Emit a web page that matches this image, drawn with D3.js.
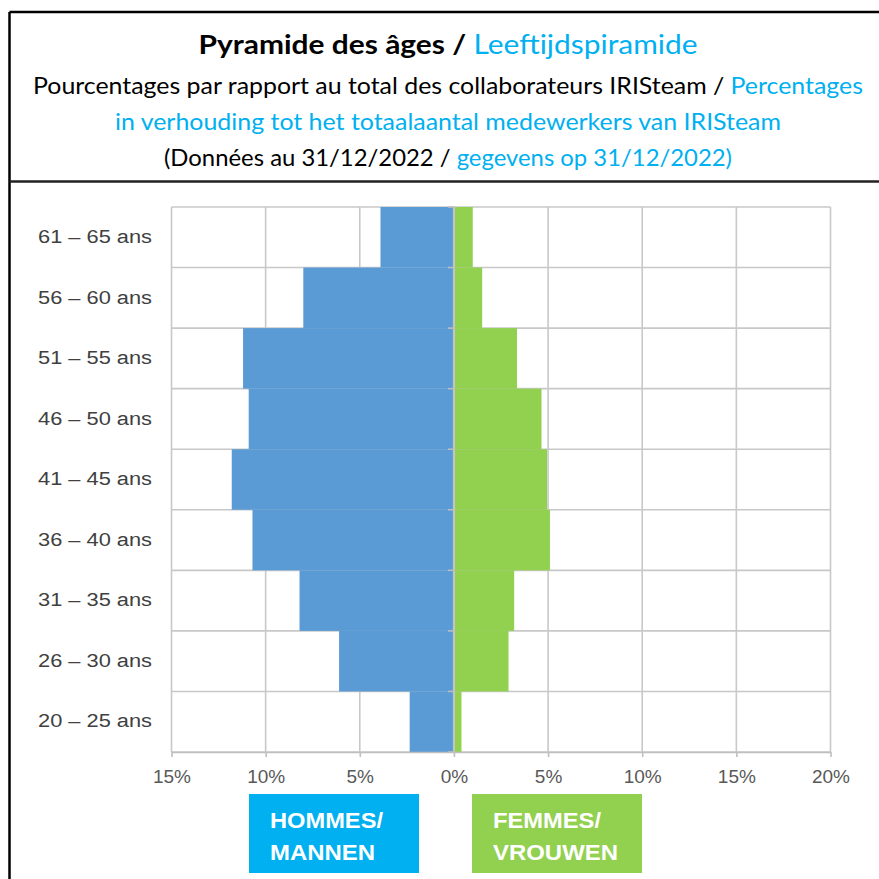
<!DOCTYPE html>
<html>
<head>
<meta charset="utf-8">
<script src="https://cdn.jsdelivr.net/npm/d3@7"></script>
<style>
  body { margin: 0; background: #fff; }
  svg { display: block; }
</style>
</head>
<body>
<svg id="svg" width="879" height="879"></svg>
<script>
// age pyramid data (percent of total staff)
const ageGroups = ['61 – 65 ans', '56 – 60 ans', '51 – 55 ans', '46 – 50 ans', '41 – 45 ans',
                   '36 – 40 ans', '31 – 35 ans', '26 – 30 ans', '20 – 25 ans'];
const hommes = [3.9, 8.0, 11.2, 10.9, 11.8, 10.7, 8.2, 6.1, 2.35];
const femmes = [1.0, 1.5, 3.35, 4.65, 4.95, 5.1, 3.2, 2.9, 0.4];
const xTicks = [-15, -10, -5, 0, 5, 10, 15, 20];

const svg = d3.select('#svg');
const blueText = '#00b0f0';
const gridColor = '#c8c8c8';

// frame of the card
svg.append('rect').attr('width', 879).attr('height', 879).attr('fill', '#fff');
svg.append('line').attr('x1', 9.5).attr('x2', 879).attr('y1', 12).attr('y2', 12)
    .attr('stroke', '#000').attr('stroke-width', 2.5);
svg.append('line').attr('x1', 9.5).attr('x2', 9.5).attr('y1', 12).attr('y2', 879)
    .attr('stroke', '#000').attr('stroke-width', 2.5);
svg.append('line').attr('x1', 9.5).attr('x2', 879).attr('y1', 181.5).attr('y2', 181.5)
    .attr('stroke', '#222').attr('stroke-width', 2.5);

// title block (Calibri in the original, so squeeze to the measured widths)
function titleLine(y, size, width, parts) {
    let t = svg.append('text')
        .attr('x', 448).attr('y', y)
        .attr('text-anchor', 'middle')
        .attr('font-family', 'Lato, "Open Sans", sans-serif')
        .attr('font-size', size)
        .attr('textLength', width)
        .attr('lengthAdjust', 'spacingAndGlyphs');
    parts.forEach(p => {
        t.append('tspan').text(p[0]).attr('fill', p[1]).attr('font-weight', p[2] || 'normal');
    });
}
titleLine(54, 27, 499, [['Pyramide des âges / ', '#000', 'bold'], ['Leeftijdspiramide', blueText]]);
titleLine(94, 23, 830, [['Pourcentages par rapport au total des collaborateurs IRISteam / ', '#000'],
                        ['Percentages', blueText]]);
titleLine(130, 23, 666, [['in verhouding tot het totaalaantal medewerkers van IRISteam', blueText]]);
titleLine(166, 23, 568, [['(Données au 31/12/2022 / ', '#000'], ['gegevens op 31/12/2022)', blueText]]);

// scales
const x = d3.scaleLinear().domain([-15, 20]).range([171.5, 830.5]);
const y = d3.scaleBand().domain(ageGroups).range([207, 752]).padding(0);

const plot = svg.append('g');

// gridlines
plot.selectAll('.vgrid').data(xTicks).enter().append('line')
    .attr('x1', d => x(d)).attr('x2', d => x(d))
    .attr('y1', y.range()[0]).attr('y2', y.range()[1])
    .attr('stroke', gridColor).attr('stroke-width', 1.6);
let bounds = ageGroups.map(d => y(d)).concat([y.range()[1]]);
plot.selectAll('.hgrid').data(bounds).enter().append('line')
    .attr('x1', x(-15)).attr('x2', x(20))
    .attr('y1', d => d).attr('y2', d => d)
    .attr('stroke', gridColor).attr('stroke-width', 1.6);

// bars
plot.selectAll('.men').data(hommes).enter().append('rect')
    .attr('x', d => x(-d))
    .attr('y', (d, i) => y(ageGroups[i]))
    .attr('width', d => x(0) - 1 - x(-d))
    .attr('height', y.bandwidth())
    .attr('fill', '#5b9bd5');
plot.selectAll('.women').data(femmes).enter().append('rect')
    .attr('x', x(0) + 1)
    .attr('y', (d, i) => y(ageGroups[i]))
    .attr('width', d => x(d) - x(0) - 1)
    .attr('height', y.bandwidth())
    .attr('fill', '#92d050');

// zero line with small ticks at band edges
plot.append('line').attr('x1', x(0)).attr('x2', x(0))
    .attr('y1', y.range()[0]).attr('y2', y.range()[1])
    .attr('stroke', '#bfbfbf').attr('stroke-width', 1.5);
plot.selectAll('.ytick').data(bounds).enter().append('line')
    .attr('x1', x(0) - 6).attr('x2', x(0))
    .attr('y1', d => d).attr('y2', d => d)
    .attr('stroke', '#bfbfbf').attr('stroke-width', 1.5);

// x axis
let xAxis = svg.append('g')
    .attr('transform', 'translate(0,' + y.range()[1] + ')')
    .call(d3.axisBottom(x).tickValues(xTicks).tickFormat(d => Math.abs(d) + '%')
        .tickSize(5).tickSizeOuter(0).tickPadding(13));
xAxis.select('.domain').attr('stroke', '#bfbfbf').attr('stroke-width', 1.6);
xAxis.selectAll('line').attr('stroke', '#bfbfbf').attr('stroke-width', 1.6);
xAxis.selectAll('text')
    .attr('font-family', 'Arial, "Liberation Sans", sans-serif')
    .attr('font-size', 19).attr('fill', '#595959');

// y axis labels
let yAxis = svg.append('g')
    .attr('transform', 'translate(160,0)')
    .call(d3.axisLeft(y).tickSize(0).tickPadding(8));
yAxis.select('.domain').remove();
yAxis.selectAll('text')
    .attr('font-family', 'Arial, "Liberation Sans", sans-serif')
    .attr('font-size', 18).attr('fill', '#404040')
    .attr('textLength', 114).attr('lengthAdjust', 'spacingAndGlyphs');

// legend boxes
const legend = [
    {x: 249, w: 170, fill: '#00b0f0', lines: ['HOMMES/', 'MANNEN'], lens: [113, 105]},
    {x: 472, w: 170, fill: '#92d050', lines: ['FEMMES/', 'VROUWEN'], lens: [108, 125]}
];
legend.forEach(l => {
    svg.append('rect').attr('x', l.x).attr('y', 794).attr('width', l.w).attr('height', 79)
        .attr('fill', l.fill);
    l.lines.forEach((s, i) => {
        svg.append('text').attr('x', l.x + 21).attr('y', 828 + i * 32)
            .attr('font-family', 'Arial, "Liberation Sans", sans-serif')
            .attr('font-weight', 'bold').attr('font-size', 22.5)
            .attr('textLength', l.lens[i]).attr('lengthAdjust', 'spacingAndGlyphs')
            .attr('fill', '#fff').text(s);
    });
});
</script>
</body>
</html>
